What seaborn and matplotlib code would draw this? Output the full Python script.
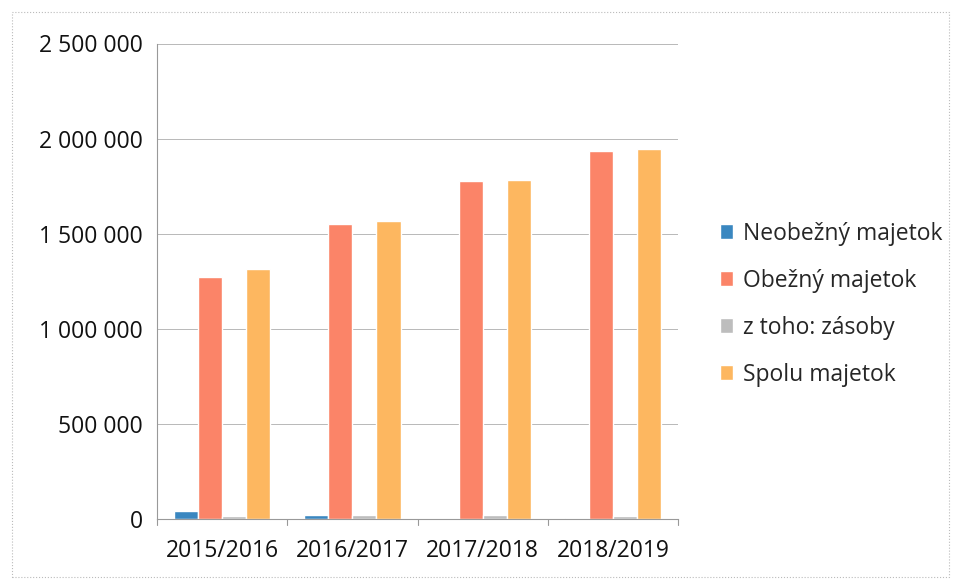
import pandas as pd
import matplotlib
matplotlib.use('Agg')
import matplotlib.pyplot as plt
import seaborn as sns
from matplotlib.patches import Rectangle

years = ['2015/2016', '2016/2017', '2017/2018', '2018/2019']
series = ['Neobežný majetok', 'Obežný majetok', 'z toho: zásoby', 'Spolu majetok']
neobezny = [42000, 22000, 0, 6000]
obezny = [1270000, 1550000, 1778000, 1935000]
zasoby = [15000, 20000, 24000, 16000]
spolu = [1315000, 1565000, 1782000, 1948000]
colors = ['#3A87C0', '#FB8468', '#BDBDBD', '#FDB760']
yticks = [0, 500000, 1000000, 1500000, 2000000, 2500000]

df = pd.DataFrame({'rok': years * 4,
                   'seria': [s for s in series for _ in years],
                   'hodnota': neobezny + obezny + zasoby + spolu})

sns.set_style('white')
plt.rcParams['font.family'] = ['Open Sans', 'DejaVu Sans']

fig = plt.figure(figsize=(9.62, 5.8), dpi=100)
ax = fig.add_axes([0.163, 0.105, 0.542, 0.82])
sns.barplot(df, x='rok', y='hodnota', hue='seria', palette=colors,
            width=0.74, gap=0, saturation=1, ax=ax)

ax.set_ylim(0, 2500000)
ax.set_xlim(-0.5, 3.5)
ax.set_yticks(yticks)
ax.set_yticklabels([f'{v:,}'.replace(',', ' ') for v in yticks], fontsize=16.5, color='#111111')
ax.tick_params(axis='x', labelsize=16.5, labelcolor='#111111', length=0, pad=14)
ax.tick_params(axis='y', length=5, color='#999999', pad=5)
ax.yaxis.grid(True, color='#b8b8b8', linewidth=0.7)
ax.set_axisbelow(True)
for s in ['top', 'right']:
    ax.spines[s].set_visible(False)
for s in ['left', 'bottom']:
    ax.spines[s].set_color('#999999')
    ax.spines[s].set_linewidth(0.8)
# category boundary ticks below the x axis
for xb in [-0.5, 0.5, 1.5, 2.5, 3.5]:
    ax.plot([xb, xb], [0, -0.012], transform=ax.get_xaxis_transform(),
            color='#999999', lw=0.8, clip_on=False)
ax.set_xlabel('')
ax.set_ylabel('')

leg = ax.legend(loc='center left', bbox_to_anchor=(1.04, 0.452), frameon=False,
                fontsize=16.5, handlelength=0.6, handleheight=0.6,
                handletextpad=0.4, labelspacing=1.0)

fig.patches.append(Rectangle((0.012, 0.005), 0.975, 0.975, transform=fig.transFigure,
                             fill=False, edgecolor='#bbbbbb', lw=0.8, ls=':'))

fig.savefig('out.png', dpi=100)
